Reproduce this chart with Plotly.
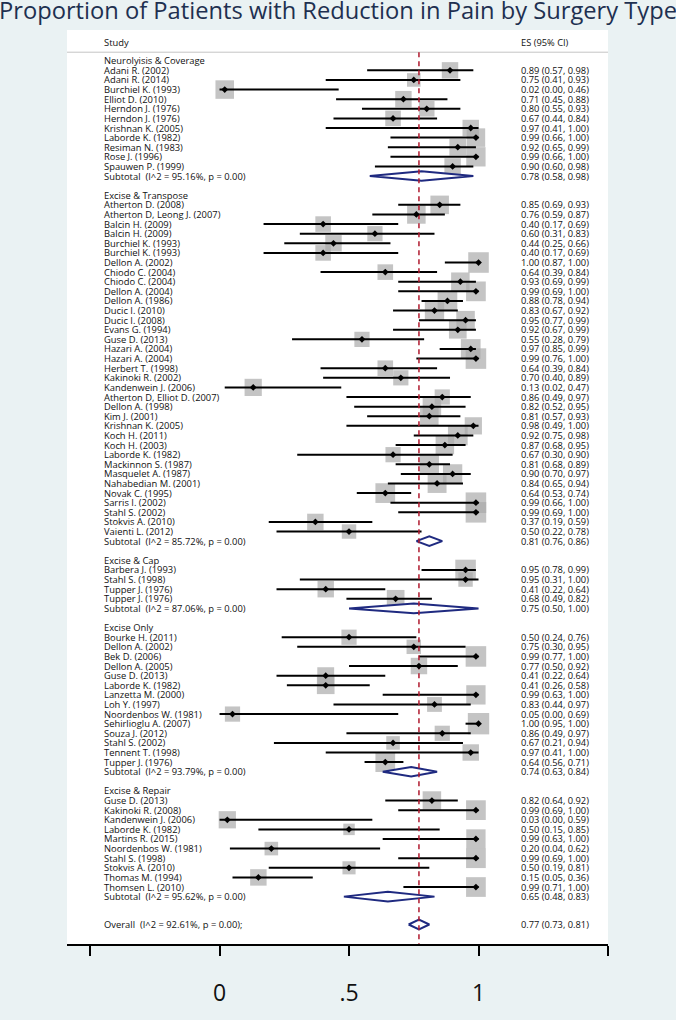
import plotly.graph_objects as go

title = "Proportion of Patients with Reduction in Pain by Surgery Type"

group_names = ["Neurolyisis & Coverage", "Excise & Transpose", "Excise & Cap",
               "Excise Only", "Excise & Repair"]

g1_study = ["Adani R. (2002)", "Adani R. (2014)", "Burchiel K. (1993)", "Elliot D. (2010)",
            "Herndon J. (1976)", "Herndon J. (1976)", "Krishnan K. (2005)", "Laborde K. (1982)",
            "Resiman N. (1983)", "Rose J. (1996)", "Spauwen P. (1999)"]
g1_es = [0.89, 0.75, 0.02, 0.71, 0.80, 0.67, 0.97, 0.99, 0.92, 0.99, 0.90]
g1_lo = [0.57, 0.41, 0.00, 0.45, 0.55, 0.44, 0.41, 0.66, 0.65, 0.66, 0.60]
g1_hi = [0.98, 0.93, 0.46, 0.88, 0.93, 0.84, 1.00, 1.00, 0.99, 1.00, 0.98]
g1_w = [1.60, 1.09, 2.03, 1.60, 1.44, 1.44, 1.60, 2.03, 1.68, 2.21, 1.60]

g2_study = ["Atherton D. (2008)", "Atherton D, Leong J. (2007)", "Balcin H. (2009)",
            "Balcin H. (2009)", "Burchiel K. (1993)", "Burchiel K. (1993)", "Dellon A. (2002)",
            "Chiodo C. (2004)", "Chiodo C. (2004)", "Dellon A. (2004)", "Dellon A. (1986)",
            "Ducic I. (2010)", "Ducic I. (2008)", "Evans G. (1994)", "Guse D. (2013)",
            "Hazari A. (2004)", "Hazari A. (2004)", "Herbert T. (1998)", "Kakinoki R. (2002)",
            "Kandenwein J. (2006)", "Atherton D, Elliot D. (2007)", "Dellon A. (1998)",
            "Kim J. (2001)", "Krishnan K. (2005)", "Koch H. (2011)", "Koch H. (2003)",
            "Laborde K. (1982)", "Mackinnon S. (1987)", "Masquelet A. (1987)",
            "Nahabedian M. (2001)", "Novak C. (1995)", "Sarris I. (2002)", "Stahl S. (2002)",
            "Stokvis A. (2010)", "Vaienti L. (2012)"]
g2_es = [0.85, 0.76, 0.40, 0.60, 0.44, 0.40, 1.00, 0.64, 0.93, 0.99, 0.88, 0.83, 0.95, 0.92,
         0.55, 0.97, 0.99, 0.64, 0.70, 0.13, 0.86, 0.82, 0.81, 0.98, 0.92, 0.87, 0.67, 0.81,
         0.90, 0.84, 0.64, 0.99, 0.99, 0.37, 0.50]
g2_lo = [0.69, 0.59, 0.17, 0.31, 0.25, 0.17, 0.87, 0.39, 0.69, 0.69, 0.78, 0.67, 0.77, 0.67,
         0.28, 0.85, 0.76, 0.39, 0.40, 0.02, 0.49, 0.52, 0.57, 0.49, 0.75, 0.68, 0.30, 0.68,
         0.70, 0.65, 0.53, 0.66, 0.69, 0.19, 0.22]
g2_hi = [0.93, 0.87, 0.69, 0.83, 0.66, 0.69, 1.00, 0.84, 0.99, 1.00, 0.94, 0.92, 0.99, 0.99,
         0.79, 0.99, 1.00, 0.84, 0.89, 0.47, 0.97, 0.95, 0.93, 1.00, 0.98, 0.95, 0.90, 0.89,
         0.97, 0.94, 0.74, 1.00, 1.00, 0.59, 0.78]
g2_w = [2.03, 2.03, 1.44, 1.37, 1.60, 1.44, 2.50, 1.44, 2.03, 2.30, 2.30, 2.21, 2.03, 1.85,
        1.37, 2.30, 2.50, 1.44, 1.37, 1.76, 1.37, 2.03, 2.03, 1.76, 2.30, 2.03, 1.37, 2.21,
        2.21, 2.12, 2.30, 2.50, 2.50, 1.60, 1.23]

g3_study = ["Barbera J. (1993)", "Stahl S. (1998)", "Tupper J. (1976)", "Tupper J. (1976)"]
g3_es = [0.95, 0.95, 0.41, 0.68]
g3_lo = [0.78, 0.31, 0.22, 0.49]
g3_hi = [0.99, 1.00, 0.64, 0.82]
g3_w = [2.50, 1.23, 1.60, 1.85]

g4_study = ["Bourke H. (2011)", "Dellon A. (2002)", "Bek D. (2006)", "Dellon A. (2005)",
            "Guse D. (2013)", "Laborde K. (1982)", "Lanzetta M. (2000)", "Loh Y. (1997)",
            "Noordenbos W. (1981)", "Sehirlioglu A. (2007)", "Souza J. (2012)",
            "Stahl S. (2002)", "Tennent T. (1998)", "Tupper J. (1976)"]
g4_es = [0.50, 0.75, 0.99, 0.77, 0.41, 0.41, 0.99, 0.83, 0.05, 1.00, 0.86, 0.67, 0.97, 0.64]
g4_lo = [0.24, 0.30, 0.77, 0.50, 0.22, 0.26, 0.63, 0.44, 0.00, 0.95, 0.49, 0.21, 0.41, 0.56]
g4_hi = [0.76, 0.95, 1.00, 0.92, 0.64, 0.58, 1.00, 0.97, 0.69, 1.00, 0.97, 0.94, 1.00, 0.71]
g4_w = [1.37, 1.23, 2.50, 1.60, 1.68, 1.85, 2.21, 1.30, 1.37, 2.70, 1.37, 1.09, 1.60, 2.30]

g5_study = ["Guse D. (2013)", "Kakinoki R. (2008)", "Kandenwein J. (2006)", "Laborde K. (1982)",
            "Martins R. (2015)", "Noordenbos W. (1981)", "Stahl S. (1998)", "Stokvis A. (2010)",
            "Thomas M. (1994)", "Thomsen L. (2010)"]
g5_es = [0.82, 0.99, 0.03, 0.50, 0.99, 0.20, 0.99, 0.50, 0.15, 0.99]
g5_lo = [0.64, 0.69, 0.00, 0.15, 0.63, 0.04, 0.69, 0.19, 0.05, 0.71]
g5_hi = [0.92, 1.00, 0.59, 0.85, 1.00, 0.62, 1.00, 0.81, 0.36, 1.00]
g5_w = [2.03, 2.30, 1.76, 0.78, 2.21, 1.09, 2.30, 1.02, 1.60, 2.30]

subtotal_i2 = [95.16, 85.72, 87.06, 93.79, 95.62]
subtotal_p = [0.00, 0.00, 0.00, 0.00, 0.00]
subtotal_es = [0.78, 0.81, 0.75, 0.74, 0.65]
subtotal_lo = [0.58, 0.76, 0.50, 0.63, 0.48]
subtotal_hi = [0.98, 0.86, 1.00, 0.84, 0.83]

overall_i2 = 92.61
overall_p = 0.00
overall_es = 0.77
overall_lo = 0.73
overall_hi = 0.81

x_tickvals = [-0.5, 0, 0.5, 1, 1.5]
x_ticktext = ["", "0", ".5", "1", ""]

# ---------------------------------------------------------------------------
studies = [g1_study, g2_study, g3_study, g4_study, g5_study]
ess = [g1_es, g2_es, g3_es, g4_es, g5_es]
los = [g1_lo, g2_lo, g3_lo, g4_lo, g5_lo]
his = [g1_hi, g2_hi, g3_hi, g4_hi, g5_hi]
ws = [g1_w, g2_w, g3_w, g4_w, g5_w]

LABEL_X = -0.455
ES_X = 1.158
NBSP = "\u00a0"
label_font = dict(family="Open Sans", size=9.4, color="#111111")
es_font = dict(family="Liberation Sans Narrow, Open Sans", size=9.3, color="#111111")

row = 0
pt_x, pt_y, box_s = [], [], []
ci_x, ci_y = [], []
dia_x, dia_y = [], []
annotations = []


def add_text(x, y, text, font):
    annotations.append(dict(x=x, y=y, xref="x", yref="y", text=text, showarrow=False,
                            xanchor="left", yanchor="middle", font=font))


def es_text(e, l, h):
    return f"{e:.2f} ({l:.2f}, {h:.2f})"


def diamond(e, l, h, y, hh=0.5):
    dia_x.extend([l, e, h, e, l, None])
    dia_y.extend([y, y - hh, y, y + hh, y, None])


for g in range(5):
    add_text(LABEL_X, row, group_names[g], label_font)
    row += 1
    for s, e, l, h, w in zip(studies[g], ess[g], los[g], his[g], ws[g]):
        add_text(LABEL_X, row, s, label_font)
        add_text(ES_X, row, es_text(e, l, h), es_font)
        pt_x.append(e)
        pt_y.append(row)
        box_s.append(13.0 * w ** 0.5)
        ci_x.extend([l, h, None])
        ci_y.extend([row, row, None])
        row += 1
    add_text(LABEL_X, row,
             f"Subtotal{NBSP} (I^2 = {subtotal_i2[g]:.2f}%, p = {subtotal_p[g]:.2f})", label_font)
    add_text(ES_X, row, es_text(subtotal_es[g], subtotal_lo[g], subtotal_hi[g]), es_font)
    diamond(subtotal_es[g], subtotal_lo[g], subtotal_hi[g], row)
    row += 1
    if g < 4:
        row += 1

overall_row = row - 1 + 2.9
add_text(LABEL_X, overall_row,
         f"Overall{NBSP} (I^2 = {overall_i2:.2f}%, p = {overall_p:.2f});", label_font)
add_text(ES_X, overall_row, es_text(overall_es, overall_lo, overall_hi), es_font)
diamond(overall_es, overall_lo, overall_hi, overall_row)

HEADER_Y = -1.94
LINE_Y = -0.89
Y_TOP = -3.20
Y_BOT = 91.93

add_text(LABEL_X, HEADER_Y, "Study", label_font)
add_text(ES_X, HEADER_Y, "ES (95% CI)", es_font)

fig = go.Figure()
fig.add_trace(go.Scatter(x=pt_x, y=pt_y, mode="markers", hoverinfo="skip",
                         marker=dict(symbol="square", size=box_s, color="#ABABAB",
                                     line=dict(width=0))))
fig.add_trace(go.Scatter(x=ci_x, y=ci_y, mode="lines", hoverinfo="skip",
                         line=dict(color="#000000", width=2)))
fig.add_trace(go.Scatter(x=dia_x, y=dia_y, mode="lines", fill="toself", fillcolor="white",
                         hoverinfo="skip", line=dict(color="#1F2A80", width=2)))
fig.add_trace(go.Scatter(x=[overall_es, overall_es], y=[LINE_Y, Y_BOT], mode="lines",
                         hoverinfo="skip",
                         line=dict(color="#B01A2E", width=1.5, dash="5px,4px")))
fig.add_trace(go.Scatter(x=pt_x, y=pt_y, mode="markers", hoverinfo="skip",
                         marker=dict(symbol="diamond", size=5.2, color="#000000",
                                     line=dict(width=0))))

fig.add_shape(type="line", xref="paper", yref="y", x0=0, x1=1, y0=LINE_Y, y1=LINE_Y,
              line=dict(color="#C4C4C4", width=1), layer="below")

fig.update_layout(
    width=676, height=1020,
    margin=dict(l=67, r=68, t=30, b=31),
    paper_bgcolor="#EAF2F3", plot_bgcolor="white",
    showlegend=False,
    annotations=annotations,
    title=dict(text=title, x=0.5, xref="container", xanchor="center",
               y=1 - 11 / 1020, yref="container", yanchor="middle",
               font=dict(family="Open Sans", size=23.7, color="#1E3050")),
    xaxis=dict(range=[-0.589, 1.5], showgrid=False, zeroline=False,
               showline=True, linecolor="#000000", linewidth=1.5,
               ticks="outside", ticklen=10, tickwidth=1.5, tickcolor="#000000",
               tickvals=x_tickvals, ticktext=x_ticktext, ticklabelstandoff=18,
               tickfont=dict(family="Open Sans", size=23, color="#111111")),
    yaxis=dict(range=[Y_BOT, Y_TOP], visible=False, showgrid=False, zeroline=False),
)

fig.write_html("out.html", config={"displayModeBar": False},
               post_script="document.body.style.margin='0';document.body.style.overflow='hidden';")
